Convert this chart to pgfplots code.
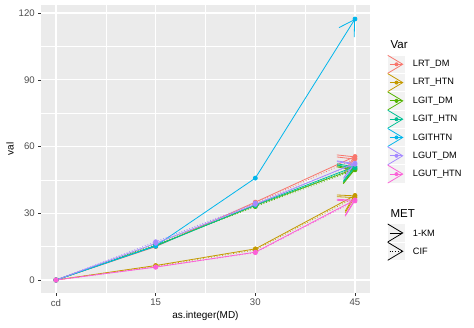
\documentclass[border=0pt]{standalone}
\usepackage{pgfplots}
\usepackage{pgfplotstable}
\pgfplotsset{compat=1.18}
\usepackage{fontspec}
\setmainfont{Liberation Sans}
\usetikzlibrary{arrows.meta}
\definecolor{cA}{HTML}{F8766D}
\definecolor{cB}{HTML}{C49A00}
\definecolor{cC}{HTML}{53B400}
\definecolor{cD}{HTML}{00C094}
\definecolor{cE}{HTML}{00B6EB}
\definecolor{cF}{HTML}{A58AFF}
\definecolor{cG}{HTML}{FB61D7}
\definecolor{panel}{HTML}{EBEBEB}
\definecolor{gthirty}{HTML}{4D4D4D}
\definecolor{gtwenty}{HTML}{333333}
\definecolor{keybg}{HTML}{F2F2F2}

% 1-KM (solid)
\pgfplotstableread{
x LRTDM LRTHTN LGITDM LGITHTN LGITHTN2 LGUTDM LGUTHTN
0 0 0 0 0 0 0 0
15 15.0 6.5 15.5 15.2 15.3 16.5 5.8
30 35.0 14.0 33.5 33.8 45.8 34.0 12.5
45 55.5 38.0 50.0 51.0 117.3 52.5 36.0
}\kmtable
% CIF (dotted)
\pgfplotstableread{
x LRTDM LRTHTN LGITDM LGITHTN LGUTDM LGUTHTN
0 0 0 0 0 0 0
15 15.6 6.2 16.0 15.6 17.2 5.8
30 34.5 13.5 33.0 33.4 34.6 12.3
45 54.5 37.2 49.5 50.4 52.0 35.5
}\ciftable

\tikzset{ggarrow/.style={-{Straight Barb[length=15pt,width=18pt]}}}

\begin{document}
\begin{tikzpicture}
\begin{axis}[
  scale only axis, width=329pt, height=288pt,
  xmin=-2.26, xmax=47.26, ymin=-5.84, ymax=123.6,
  xtick={0,15,30,45}, xticklabels={cd,15,30,45},
  ytick={0,30,60,90,120},
  minor xtick={7.5,22.5,37.5}, minor ytick={15,45,75,105},
  grid=both,
  major grid style={white,line width=1.07pt},
  minor grid style={white,line width=0.53pt},
  axis background/.style={fill=panel},
  axis line style={draw=none},
  tick align=outside, tick pos=left,
  major tick length=2.75pt, minor tick length=0pt,
  tick style={gtwenty,line width=0.5pt},
  ticklabel style={font=\fontsize{9.6}{11}\selectfont, text=gthirty},
  /pgf/number format/assume math mode=true,
  xlabel={as.integer(MD)}, ylabel={val},
  label style={font=\fontsize{11.5}{13}\selectfont},
  every axis x label/.style={at={(axis description cs:0.5,-0.0799)}, anchor=center},
  every axis y label/.style={at={(axis description cs:-0.0942,0.5)}, rotate=90, anchor=center},
  every axis plot/.append style={line width=0.8pt, mark=*, mark size=2pt, mark options={solid}, ggarrow},
]
\addplot[cA] table[x=x,y=LRTDM]{\kmtable};
\addplot[cA, dash pattern=on 0.8pt off 2pt] table[x=x,y=LRTDM]{\ciftable};
\addplot[cB] table[x=x,y=LRTHTN]{\kmtable};
\addplot[cB, dash pattern=on 0.8pt off 2pt] table[x=x,y=LRTHTN]{\ciftable};
\addplot[cC] table[x=x,y=LGITDM]{\kmtable};
\addplot[cC, dash pattern=on 0.8pt off 2pt] table[x=x,y=LGITDM]{\ciftable};
\addplot[cD] table[x=x,y=LGITHTN]{\kmtable};
\addplot[cD, dash pattern=on 0.8pt off 2pt] table[x=x,y=LGITHTN]{\ciftable};
\addplot[cE] table[x=x,y=LGITHTN2]{\kmtable};
\addplot[cF] table[x=x,y=LGUTDM]{\kmtable};
\addplot[cF, dash pattern=on 0.8pt off 2pt] table[x=x,y=LGUTDM]{\ciftable};
\addplot[cG] table[x=x,y=LGUTHTN]{\kmtable};
\addplot[cG, dash pattern=on 0.8pt off 2pt] table[x=x,y=LGUTHTN]{\ciftable};
\end{axis}

% legend: Var
\node[anchor=west, font=\fontsize{11.5}{13}\selectfont] at (346pt,248pt) {Var};
\foreach \c/\n [count=\i] in {cA/LRT\_DM, cB/LRT\_HTN, cC/LGIT\_DM, cD/LGIT\_HTN, cE/LGITHTN, cF/LGUT\_DM, cG/LGUT\_HTN} {
  \pgfmathsetmacro\yy{228.7-(\i-1)*18.3}
  \fill[keybg] (346.9pt,\yy pt-8.64pt) rectangle (364.2pt,\yy pt+8.64pt);
}
\foreach \c/\n [count=\i] in {cA/LRT\_DM, cB/LRT\_HTN, cC/LGIT\_DM, cD/LGIT\_HTN, cE/LGITHTN, cF/LGUT\_DM, cG/LGUT\_HTN} {
  \pgfmathsetmacro\yy{228.7-(\i-1)*18.3}
  \draw[\c, line width=0.8pt, ggarrow] (348.6pt,\yy pt) -- (362.5pt,\yy pt);
  \fill[\c] (355.5pt,\yy pt) circle (2pt);
  \node[anchor=west, font=\fontsize{9.2}{10}\selectfont, inner sep=0pt] at (371.7pt,\yy pt) {\n};
}
% legend: MET
\node[anchor=west, font=\fontsize{11.5}{13}\selectfont] at (346pt,79pt) {MET};
\fill[keybg] (346.9pt,60pt-8.64pt) rectangle (364.2pt,60pt+8.64pt);
\fill[keybg] (346.9pt,41.7pt-8.64pt) rectangle (364.2pt,41.7pt+8.64pt);
\draw[black, line width=0.8pt, ggarrow] (348.6pt,60pt) -- (362.5pt,60pt);
\draw[black, line width=0.8pt, ggarrow, dash pattern=on 0.8pt off 2pt] (348.6pt,41.7pt) -- (362.5pt,41.7pt);
\node[anchor=west, font=\fontsize{9.2}{10}\selectfont, inner sep=0pt] at (371.7pt,60pt) {1-KM};
\node[anchor=west, font=\fontsize{9.2}{10}\selectfont, inner sep=0pt] at (371.7pt,41.7pt) {CIF};

\pgfresetboundingbox
\useasboundingbox (-41pt,-35pt) rectangle (433pt,293pt);
\end{tikzpicture}
\end{document}
